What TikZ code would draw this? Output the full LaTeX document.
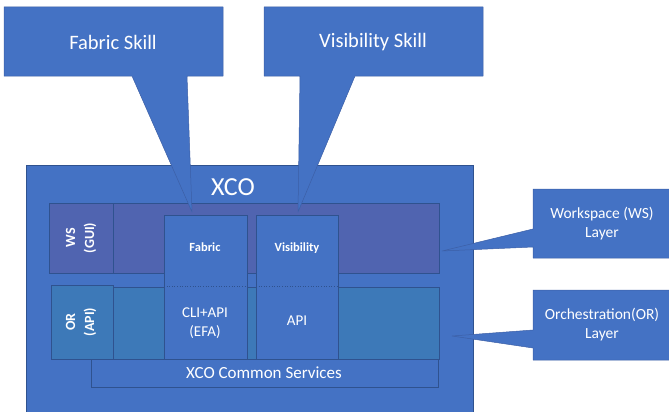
\documentclass[tikz,border=0pt]{standalone}
\usepackage{fontspec}
\setmainfont{Carlito}
\definecolor{obl}{HTML}{4472C4}
\definecolor{wsb}{HTML}{5064B0}
\definecolor{orb}{HTML}{3D79B8}
\definecolor{edge}{HTML}{2F528F}
\definecolor{cedge}{HTML}{3C5FA6}
\tikzset{
  box/.style={fill=obl, draw=edge, line width=0.6pt},
  callout/.style={fill=obl, draw=cedge, line width=0.5pt, line join=round},
  txt/.style={text=white, align=center, inner sep=0pt},
}
\begin{document}
\begin{tikzpicture}[x=1pt,y=-1pt]
\useasboundingbox (0,0) rectangle (669,412);
\clip (0,0) rectangle (669,412);
% XCO outer box
\draw[box] (26,165) rectangle (473,420);
\node[txt, font=\fontsize{26}{30}\selectfont] (xco) at (233,187) {XCO};
% WS band
\draw[box, fill=wsb] (49,203) rectangle (439,273);
\draw[box, fill=wsb] (49,203) rectangle (113,273);
% OR band
\draw[box, fill=orb] (51,287) rectangle (439,359);
\draw[box, fill=orb] (51,285) rectangle (113,359);
% common services
\draw[box] (91,359) rectangle (438,387);
\node[txt, font=\fontsize{17}{20}\selectfont] (cs) at (264,373) {XCO Common Services};
% callouts (skills)
\draw[callout] (4,7) -- (223,7) -- (223,76) -- (187,76) -- (192,212) -- (132,76) -- (4,76) -- cycle;
\node[txt, font=\fontsize{20.5}{24}\selectfont] (fs) at (113,42) {Fabric Skill};
\draw[callout] (264,7) -- (483,7) -- (483,76) -- (355,76) -- (298,212) -- (300,76) -- (264,76) -- cycle;
\node[txt, font=\fontsize{20.5}{24}\selectfont] (vs) at (373,42) {Visibility Skill};
% columns
\draw[box] (164,215) rectangle (247,359);
\draw[edge, dotted, line width=0.6pt] (164,286) -- (247,286);
\draw[box] (256,215) rectangle (338,359);
\draw[edge, dotted, line width=0.6pt] (256,286) -- (338,286);
\node[txt, font=\bfseries\fontsize{12.5}{15}\selectfont] (fab) at (205,247) {Fabric};
\node[txt, font=\bfseries\fontsize{12.5}{15}\selectfont] (vis) at (297,248) {Visibility};
\node[txt, font=\fontsize{15}{19}\selectfont] (cli) at (205,323) {CLI+API\\(EFA)};
\node[txt, font=\fontsize{15}{19}\selectfont] (api) at (297,321) {API};
% rotated labels
\node[txt, rotate=90, font=\bfseries\fontsize{14}{19}\selectfont] (ws) at (81,238) {WS\\(GUI)};
\node[txt, rotate=90, font=\bfseries\fontsize{14}{19}\selectfont] (or) at (81,322) {OR\\(API)};
% layer callouts
\draw[callout] (533,189) -- (672,189) -- (672,258) -- (533,258) -- (533,247) -- (442,251) -- (533,229) -- cycle;
\node[txt, font=\fontsize{15.5}{19}\selectfont] (wsl) at (602,224) {Workspace (WS)\\Layer};
\draw[callout] (533,290) -- (672,290) -- (672,360) -- (533,360) -- (533,348) -- (452,336) -- (533,330) -- cycle;
\node[txt, font=\fontsize{15.5}{19}\selectfont] (orl) at (602,325) {Orchestration(OR)\\Layer};
\end{tikzpicture}
\end{document}
